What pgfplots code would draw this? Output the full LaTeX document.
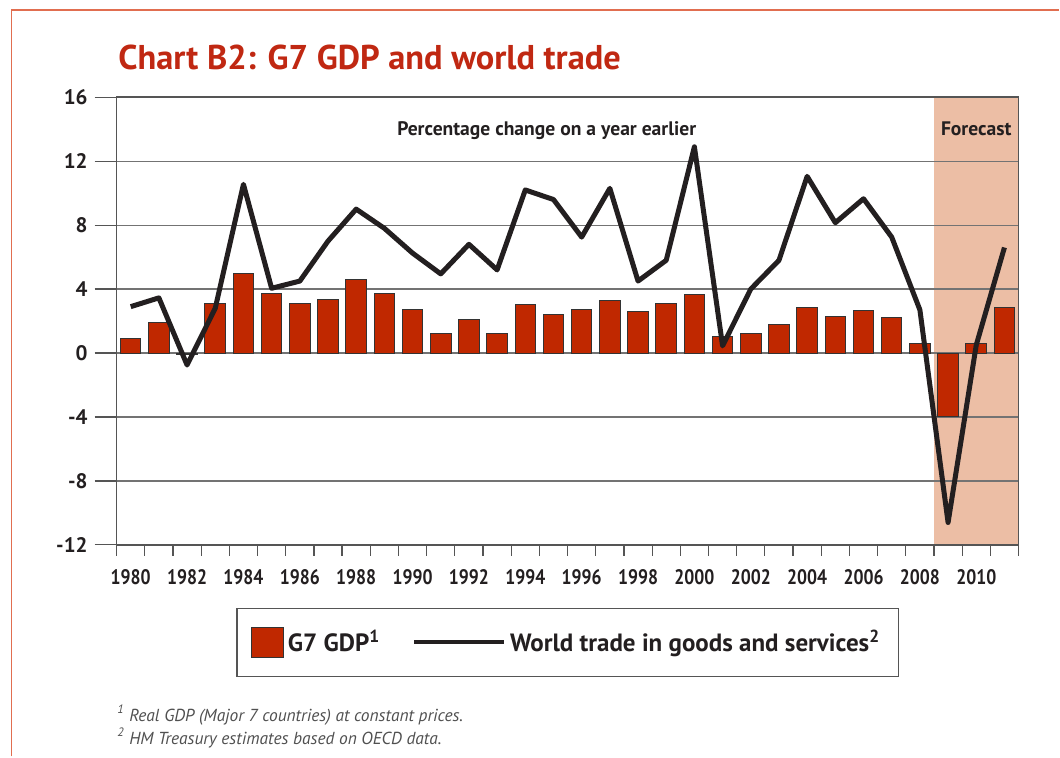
\documentclass[border=0pt]{standalone}
\usepackage{pgfplots}
\pgfplotsset{compat=1.18}
\usepackage{fontspec}
\setmainfont{PT Sans}
\newfontfamily\condb{PT Sans Bold}[FakeStretch=0.84]
\newfontfamily\boldf{PT Sans Bold}
\newfontfamily\footit{PT Sans Italic}
\definecolor{titlered}{RGB}{192,40,18}
\definecolor{barred}{RGB}{192,40,0}
\definecolor{forecast}{RGB}{236,190,165}
\definecolor{framecol}{RGB}{225,110,80}
\definecolor{linecol}{RGB}{35,31,32}
\definecolor{gridcol}{RGB}{115,115,115}
\definecolor{axcol}{RGB}{85,85,85}
\definecolor{footcol}{RGB}{80,80,80}

\pgfplotstableread{
year gdp trade
1980 0.9 2.9
1981 1.9 3.45
1982 -0.1 -0.75
1983 3.1 2.8
1984 5.0 10.55
1985 3.7 4.05
1986 3.1 4.5
1987 3.35 7.0
1988 4.6 9.0
1989 3.7 7.8
1990 2.7 6.25
1991 1.2 4.95
1992 2.1 6.8
1993 1.25 5.2
1994 3.05 10.2
1995 2.4 9.6
1996 2.7 7.25
1997 3.3 10.3
1998 2.6 4.5
1999 3.1 5.8
2000 3.65 12.9
2001 1.05 0.45
2002 1.2 4.0
2003 1.8 5.8
2004 2.85 11.05
2005 2.3 8.15
2006 2.65 9.65
2007 2.2 7.25
2008 0.6 2.7
2009 -4.0 -10.6
2010 0.6 0.5
2011 2.85 6.6
}\datatable

\begin{document}
\begin{tikzpicture}[x=1pt,y=1pt]
\path (0,0) rectangle (530,378.5);
\draw[framecol, line width=0.8pt] (5.85,0) -- (5.85,373.5) -- (530,373.5);
\node[anchor=base west, text=titlered, font=\boldf\fontsize{17.2}{20}\selectfont, inner sep=0pt] at (59,343.5) {Chart B2: G7 GDP and world trade};
\begin{axis}[
  set layers,
  at={(58.35pt,105.85pt)}, anchor=south west,
  scale only axis, width=451.3pt, height=224pt,
  xmin=1979.5, xmax=2011.5, ymin=-12, ymax=16,
  ytick={-12,-8,-4,0,4,8,12,16},
  yticklabels={-12,-8,-4,0,4,8,12,16},
  xtick={1980,1982,...,2010},
  xticklabels={1980,1982,1984,1986,1988,1990,1992,1994,1996,1998,2000,2002,2004,2006,2008,2010},
  minor xtick={1979.5,1980.5,...,2011.5},
  tick pos=left,
  tick align=outside,
  major tick length=11pt,
  minor tick length=5.5pt,
  major x tick style={draw=none},
  tick style={axcol, line width=0.6pt},
  ymajorgrids=true,
  grid style={gridcol, line width=0.6pt},
  axis line style={axcol, line width=0.8pt},
  xticklabel style={font=\condb\fontsize{10.5}{12}\selectfont, text=linecol, yshift=2pt},
  yticklabel style={font=\boldf\fontsize{10.5}{12}\selectfont, text=linecol},
  legend style={at={(0.5,-0.218)}, anchor=center, legend columns=2,
    draw=axcol, line width=0.6pt, inner xsep=7pt, inner ysep=9pt,
    font=\boldf\fontsize{12.5}{15}\selectfont, text=linecol,
    /tikz/every even column/.append style={column sep=14pt}},
  clip=false,
]
\addplot[fill=forecast, draw=none, on layer=axis background, forget plot]
  coordinates {(2008.5,-12) (2008.5,16) (2011.5,16) (2011.5,-12)} -- cycle;
\addplot[ybar, bar width=0.73, fill=barred, draw=black!80, line width=0.5pt,
  legend image code/.code={\draw[fill=barred, draw=black!80, line width=0.5pt] (0pt,-7.5pt) rectangle (16pt,7.5pt);}]
  table[x=year, y=gdp] {\datatable};
\addlegendentry{G7 GDP\textsuperscript{1}}
\addplot[sharp plot, line width=2.5pt, color=linecol, line join=round, mark=none,
  legend image code/.code={\draw[line width=2pt, color=linecol] (0pt,0pt) -- (45pt,0pt);}]
  table[x=year, y=trade] {\datatable};
\addlegendentry{World trade in goods and services\textsuperscript{2}}
\node[anchor=base, font=\boldf\fontsize{9.8}{12}\selectfont, text=linecol] at (axis cs:1994.76,13.6) {Percentage change on a year earlier};
\node[anchor=base, font=\boldf\fontsize{9.8}{12}\selectfont, text=linecol] at (axis cs:2010,13.6) {Forecast};
\end{axis}
\node[anchor=base west, font=\footit\fontsize{8.7}{10}\selectfont, text=footcol, inner sep=0pt] at (58.5,17.5) {\textsuperscript{1} Real GDP (Major 7 countries) at constant prices.};
\node[anchor=base west, font=\footit\fontsize{8.7}{10}\selectfont, text=footcol, inner sep=0pt] at (58.5,6) {\textsuperscript{2} HM Treasury estimates based on OECD data.};
\end{tikzpicture}
\end{document}
